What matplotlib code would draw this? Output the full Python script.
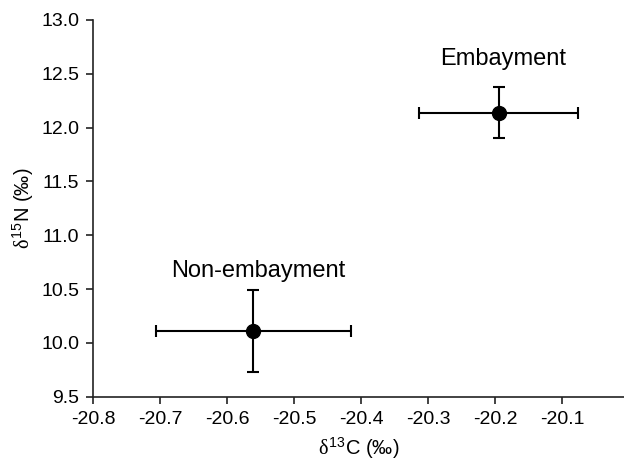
import matplotlib
matplotlib.use("Agg")
import matplotlib.pyplot as plt

plt.rcParams['font.family'] = ['Liberation Sans', 'DejaVu Sans']
plt.rcParams['mathtext.fontset'] = 'custom'
plt.rcParams['mathtext.rm'] = 'Liberation Sans'
plt.rcParams['mathtext.it'] = 'Liberation Serif'

# Site means with standard deviations
sites = ["Non-embayment", "Embayment"]
d13c = [-20.561, -20.195]
d15n = [10.11, 12.14]
d13c_err = [0.145, 0.119]
d15n_err = [0.385, 0.24]

xticks = [-20.8, -20.7, -20.6, -20.5, -20.4, -20.3, -20.2, -20.1]
yticks = [9.5, 10.0, 10.5, 11.0, 11.5, 12.0, 12.5, 13.0]

fig = plt.figure(figsize=(6.24, 4.62), dpi=100)
ax = fig.add_axes([93.3 / 624, 1 - 396.7 / 462, (624 - 93.3) / 624, (396.7 - 20) / 462])

ax.errorbar(d13c, d15n, xerr=d13c_err, yerr=d15n_err, fmt='o', color='black',
            markersize=10, elinewidth=1.5, capsize=4.5, capthick=1.5, zorder=3)

label_offsets = [0.56, 0.5]
for name, x, y, ey in zip(sites, d13c, d15n, label_offsets):
    ax.text(x + 0.007, y + ey, name, ha='center', va='center', fontsize=17)

ax.set_xlim(-20.8, -20.8 + (624 - 93.3) / 670)
ax.set_ylim(9.5, 13.0)
ax.set_xticks(xticks)
ax.set_yticks(yticks)
ax.set_xticklabels([f"{t:.1f}" for t in xticks])
ax.set_yticklabels([f"{t:.1f}" for t in yticks])

for s in ['top', 'right']:
    ax.spines[s].set_visible(False)
for s in ['left', 'bottom']:
    ax.spines[s].set_linewidth(1.2)
    ax.spines[s].set_color('#222222')
ax.tick_params(direction='out', length=5, width=1.2, labelsize=14, colors='#222222',
               labelcolor='black', pad=5)

ax.set_xlabel(r'$\mathit{\delta}^{\mathit{13}}$C (‰)', fontsize=14.5, labelpad=6)
ax.set_ylabel(r'$\mathit{\delta}^{\mathit{15}}$N (‰)', fontsize=14.5, labelpad=4)

fig.savefig("out.png", dpi=100)
